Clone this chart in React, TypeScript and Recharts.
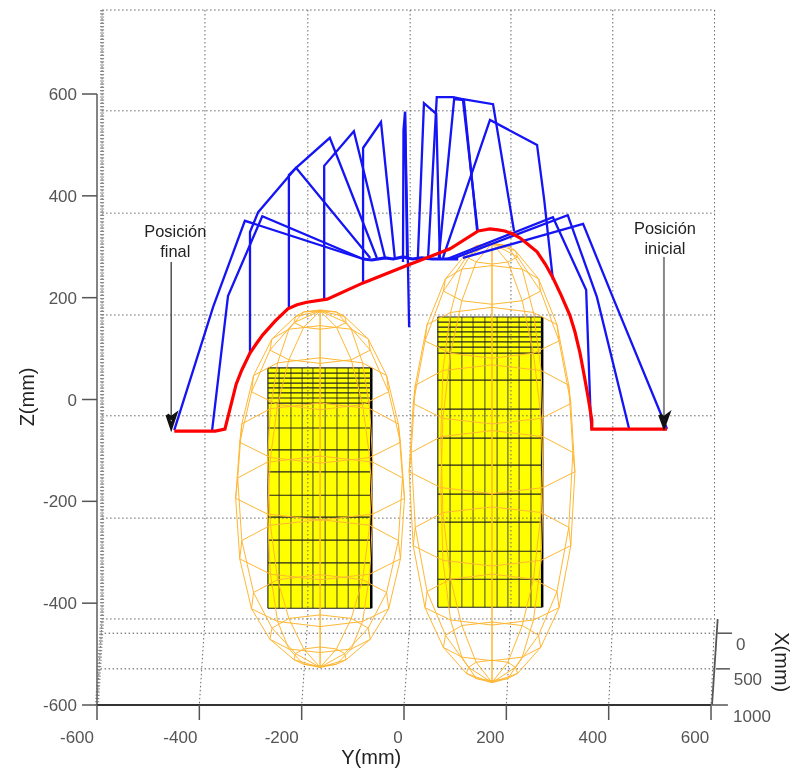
import React from 'react';
import { LineChart, Line, XAxis, YAxis, ReferenceArea, ReferenceDot } from 'recharts';

type Pair = [number, number];

const yTicks = [-600, -400, -200, 0, 200, 400, 600];
const zTicks = [-600, -400, -200, 0, 200, 400, 600];
const yLabelShift: Record<number, number> = { '-600': -20, '-400': -19, '-200': -20, 0: -6, 200: -16, 400: -16, 600: -16 };

// back wall and floor grid, in mm
const wallTop = 765;
const wallBottom = -431;
const backColumns = [-590, -389, -188, 12, 209, 408, 607];
const wallRows = [765, 567, 366, 166, -32, -233, -431];
const floorRows = [-459, -529];

// robot arm, [Y, Z] in mm
const arm1: Pair[] = [[-449, -60], [-373, 182], [-311, 351], [-80, 276]];
const arm2: Pair[] = [[-375, -60], [-344, 203], [-277, 360], [-80, 276]];
const arm3: Pair[] = [[-301, 91], [-301, 329], [-285, 368], [-211, 455], [-66, 278]];
const arm4: Pair[] = [[-225, 180], [-225, 441], [-211, 455], [-145, 514], [-53, 278]];
const arm5: Pair[] = [[-156, 195], [-156, 459], [-98, 527], [-37, 278]];
const arm6: Pair[] = [[-80, 229], [-80, 494], [-45, 545], [-18, 278]];
const arm7: Pair[] = [[-2, 270], [-1, 529], [2, 565], [6, 278]];
const arm8: Pair[] = [[2, 565], [10, 142]];
const arm9: Pair[] = [[27, 278], [39, 582], [63, 561], [70, 278]];
const arm10: Pair[] = [[47, 278], [64, 594], [96, 594], [115, 590], [144, 331]];
const arm11: Pair[] = [[68, 278], [98, 590], [117, 588], [143, 331]];
const arm12: Pair[] = [[115, 590], [174, 580], [215, 331]];
const arm13: Pair[] = [[76, 278], [168, 549], [260, 500], [274, 392], [291, 235]];
const arm14: Pair[] = [[84, 276], [291, 358], [356, 215], [365, -40], [367, -58]];
const arm15: Pair[] = [[94, 276], [320, 362], [377, 201], [440, -58]];
const arm16: Pair[] = [[115, 278], [350, 345], [408, 201], [514, -58]];
const armHub: Pair[] = [[-80, 276], [-63, 274], [-37, 278], [-21, 276], [-2, 280], [16, 276], [35, 278], [55, 276], [80, 276], [106, 276]];
const armTraces = [arm1, arm2, arm3, arm4, arm5, arm6, arm7, arm8, arm9, arm10, arm11, arm12, arm13, arm14, arm15, arm16, armHub];

// end effector path
const pathY = [-449, -369, -350, -328, -317, -301, -289, -276, -252, -227, -209, -190, -150, -80, 8, 90, 145, 156, 168, 184, 197, 213, 227, 242, 260, 276, 291, 307, 324, 334, 344, 352, 360, 367, 367, 514];
const pathZ = [-62, -62, -58, 30, 58, 91, 109, 127, 154, 178, 186, 191, 197, 229, 264, 296, 331, 333, 335, 333, 331, 325, 317, 305, 290, 266, 239, 205, 166, 133, 91, 48, 3, -40, -58, -58];

// left ellipsoid rings
const leftY1 = [-164, -132, -113, -116, -132, -164, -196, -212, -215, -196];
const leftY2 = [-164, -103, -66, -70, -103, -164, -225, -258, -262, -225];
const leftY3 = [-164, -81, -30, -34, -81, -164, -247, -294, -298, -247];
const leftY4 = [-164, -67, -7, -11, -67, -164, -261, -317, -321, -261];
const leftY5 = [-164, -61, 1, -3, -61, -164, -267, -325, -329, -267];
const leftRingsY = [leftY1, leftY2, leftY3, leftY4, leftY5, leftY4, leftY3, leftY2, leftY1];
const leftRingsZ = [
  [138, 142, 151, 163, 172, 176, 172, 163, 151, 142],
  [71, 78, 97, 119, 138, 145, 138, 119, 97, 78],
  [-20, -10, 15, 47, 72, 82, 72, 47, 15, -10],
  [-125, -114, -84, -48, -18, -7, -18, -48, -84, -114],
  [-237, -225, -194, -154, -123, -111, -123, -154, -194, -225],
  [-354, -343, -313, -277, -247, -236, -247, -277, -313, -343],
  [-446, -436, -411, -379, -354, -344, -354, -379, -411, -436],
  [-497, -490, -471, -449, -430, -423, -430, -449, -471, -490],
  [-524, -520, -511, -499, -490, -486, -490, -499, -511, -520],
];
const leftPoles: Pair[] = [[-164, 174], [-164, -526]];

// right ellipsoid rings
const rightY1 = [172, 203, 222, 218, 203, 172, 141, 126, 122, 141];
const rightY2 = [172, 231, 267, 263, 231, 172, 113, 81, 77, 113];
const rightY3 = [172, 253, 303, 299, 253, 172, 91, 45, 41, 91];
const rightY4 = [172, 268, 326, 322, 268, 172, 76, 22, 18, 76];
const rightY5 = [172, 272, 334, 330, 272, 172, 72, 14, 10, 72];
const rightRingsY = [rightY1, rightY2, rightY3, rightY4, rightY5, rightY4, rightY3, rightY2, rightY1];
const rightRingsZ = [
  [266, 270, 280, 292, 302, 306, 302, 292, 280, 270],
  [187, 194, 213, 237, 256, 263, 256, 237, 213, 194],
  [81, 91, 115, 147, 171, 181, 171, 147, 115, 91],
  [-48, -37, -8, 28, 57, 68, 57, 28, -8, -37],
  [-185, -173, -142, -104, -73, -61, -73, -104, -142, -173],
  [-327, -316, -287, -251, -222, -211, -222, -251, -287, -316],
  [-443, -433, -409, -377, -353, -343, -353, -377, -409, -433],
  [-513, -506, -487, -463, -444, -437, -444, -463, -487, -506],
  [-552, -548, -538, -526, -516, -512, -516, -526, -538, -548],
];
const rightPoles: Pair[] = [[172, 307], [172, -556]];

// yellow blocks
const leftBlockY = [-266, -244, -221, -199, -178, -154, -131, -109, -88, -64];
const leftBlockZ = [62, 52, 42, 32, 23, 13, 3, -7, -56, -99, -142, -188, -231, -276, -321, -364, -410];
const rightBlockY = [66, 90, 113, 135, 158, 182, 203, 225, 248, 270];
const rightBlockZ = [162, 152, 142, 133, 123, 113, 103, 91, 38, -19, -76, -129, -186, -241, -298, -353, -408];

// X axis drawn on the right side of the box
const xAxisEdge: Pair[] = [[613, -431], [602, -600]];
const xAxisTicks: Pair[][] = [
  [[612, -459], [641, -459]],
  [[610, -529], [637, -529]],
  [[602, -600], [633, -600]],
];
const xAxisLabels = [
  { text: '0', y: 658, z: -480 },
  { text: '500', y: 672, z: -549 },
  { text: '1000', y: 680, z: -622 },
];

// arrows
const arrowFinalShaft: Pair[] = [[-455, 270], [-455, -40]];
const arrowFinalHead: Pair[] = [[-463, -30], [-455, -54], [-447, -30], [-455, -36], [-463, -30]];
const arrowInicialShaft: Pair[] = [[508, 280], [508, -40]];
const arrowInicialHead: Pair[] = [[500, -30], [508, -52], [516, -30], [508, -36], [500, -30]];

const notes = [
  { text: 'Posición', y: -447, z: 331 },
  { text: 'final', y: -447, z: 292 },
  { text: 'Posición', y: 510, z: 337 },
  { text: 'inicial', y: 510, z: 298 },
];

const toPoints = (pairs: Pair[]) => pairs.map(([y, z]) => ({ y, z }));
const zip = (ys: number[], zs: number[]) => ys.map((y, i) => ({ y, z: zs[i] }));

const ringTraces = (ringsY: number[][], ringsZ: number[][]) =>
  ringsY.map((ys, r) => zip([...ys, ys[0]], [...ringsZ[r], ringsZ[r][0]]));

const meridianTraces = (ringsY: number[][], ringsZ: number[][], poles: Pair[]) =>
  ringsY[0].map((_, k) => [
    { y: poles[0][0], z: poles[0][1] },
    ...ringsY.map((ys, r) => ({ y: ys[k], z: ringsZ[r][k] })),
    { y: poles[1][0], z: poles[1][1] },
  ]);

const trace = (id: string, data: { y: number; z: number }[], stroke: string, width: number, extra: any = {}) => (
  <Line
    key={id}
    data={data}
    dataKey="z"
    type="linear"
    stroke={stroke}
    strokeWidth={width}
    dot={false}
    activeDot={false}
    legendType="none"
    isAnimationActive={false}
    {...extra}
  />
);

const YTick = ({ x, y, payload }: any) => (
  <text x={x + yLabelShift[payload.value]} y={y + 18} textAnchor="middle" fontSize={17} fill="#555">
    {payload.value}
  </text>
);

const label = (id: string, text: string, y: number, z: number, size: number, fill: string, angle = 0) => (
  <ReferenceDot
    key={id}
    x={y}
    y={z}
    r={0}
    ifOverflow="visible"
    fill="none"
    stroke="none"
    label={{ value: text, position: 'center', fontSize: size, fill, angle }}
  />
);

const blockLines = (id: string, ys: number[], zs: number[]) => {
  const top = zs[0];
  const bottom = zs[zs.length - 1];
  const left = ys[0];
  const right = ys[ys.length - 1];
  const last = ys.length - 1;
  return [
    ...ys.map((v, i) =>
      trace(`${id}-v${i}`, toPoints([[v, top], [v, bottom]]), i === last ? '#000' : '#333', i === last ? 2.5 : 1.4, {
        strokeOpacity: i === last ? 1 : i === 0 ? 0.9 : 0.65,
      })
    ),
    ...zs.map((v, i) => trace(`${id}-h${i}`, toPoints([[left, v], [right, v]]), '#222', 1.2)),
  ];
};

export default function App() {
  const leftOrange = [...ringTraces(leftRingsY, leftRingsZ), ...meridianTraces(leftRingsY, leftRingsZ, leftPoles)];
  const rightOrange = [...ringTraces(rightRingsY, rightRingsZ), ...meridianTraces(rightRingsY, rightRingsZ, rightPoles)];
  const dotted = { strokeDasharray: '1.5 2.5' };

  return (
    <div style={{ position: 'absolute', left: 0, top: 0, width: 797, height: 771, background: '#fff', filter: 'blur(0.35px)' }}>
      <LineChart
        width={797}
        height={771}
        margin={{ top: 10, right: 65, bottom: 0, left: 0 }}
        style={{ fontFamily: '"Liberation Sans", Arial, sans-serif' }}
      >
        <XAxis
          dataKey="y"
          type="number"
          domain={[-600, 641]}
          ticks={yTicks}
          height={66}
          interval={0}
          tickSize={15}
          tickMargin={5}
          axisLine={false}
          tickLine={{ stroke: '#555', strokeWidth: 1.5 }}
          tick={<YTick />}
        />
        <YAxis
          type="number"
          domain={[-600, 765]}
          ticks={zTicks}
          width={97}
          interval={0}
          tickSize={15}
          tickMargin={5}
          axisLine={false}
          tickLine={{ stroke: '#555', strokeWidth: 1.5 }}
          tick={{ fontSize: 17, fill: '#555' }}
        />

        {backColumns.map((c, i) => trace(`col${i}`, toPoints([[c, wallTop], [c, wallBottom], [yTicks[i], -600]]), '#666', 1, dotted))}
        {wallRows.map((r, i) => trace(`row${i}`, toPoints([[backColumns[0], r], [backColumns[6], r]]), '#666', 1, dotted))}
        {floorRows.map((r, i) => trace(`floor${i}`, toPoints([[-593, r], [612, r]]), '#555', 1, dotted))}
        {trace('wall-edge', toPoints([[-590, wallTop], [-590, wallBottom], [-600, -600]]), '#888', 4, { strokeDasharray: '1.2 2' })}
        {trace('z-line', toPoints([[-600, 600], [-600, -600]]), '#666', 1.6)}
        {trace('y-line', toPoints([[-600, -600], [600, -600]]), '#333', 2)}

        <ReferenceArea x1={leftBlockY[0]} x2={leftBlockY[9]} y1={leftBlockZ[16]} y2={leftBlockZ[0]} fill="#ffff00" fillOpacity={1} stroke="none" />
        <ReferenceArea x1={rightBlockY[0]} x2={rightBlockY[9]} y1={rightBlockZ[16]} y2={rightBlockZ[0]} fill="#ffff00" fillOpacity={1} stroke="none" />
        {blockLines('lb', leftBlockY, leftBlockZ)}
        {blockLines('rb', rightBlockY, rightBlockZ)}

        {leftOrange.map((t, i) => trace(`lo${i}`, t, '#ffb733', 1))}
        {rightOrange.map((t, i) => trace(`ro${i}`, t, '#ffb733', 1))}

        {armTraces.map((t, i) => trace(`arm${i}`, toPoints(t), '#1414f5', i === armTraces.length - 1 ? 3.2 : 2.3))}
        {trace('path', zip(pathY, pathZ), '#ff0000', 3.2)}

        {trace('af-s', toPoints(arrowFinalShaft), '#444', 1.4)}
        {trace('af-h', toPoints(arrowFinalHead), '#111', 3.4)}
        {trace('ai-s', toPoints(arrowInicialShaft), '#888', 2)}
        {trace('ai-h', toPoints(arrowInicialHead), '#111', 3.4)}

        {trace('x-edge', toPoints(xAxisEdge), '#555', 1.8)}
        {xAxisTicks.map((t, i) => trace(`x-tick${i}`, toPoints(t), '#555', 1.5))}
        {xAxisLabels.map((l, i) => label(`x-label${i}`, l.text, l.y, l.z, 17, '#555'))}
        {notes.map((n, i) => label(`note${i}`, n.text, n.y, n.z, 16.4, '#222'))}
        {label('y-title', 'Y(mm)', -64, -702, 20, '#222')}
        {label('z-title', 'Z(mm)', -737, 5, 20, '#222', -90)}
        {label('x-title', 'X(mm)', 739, -516, 20, '#222', 90)}
      </LineChart>
    </div>
  );
}
